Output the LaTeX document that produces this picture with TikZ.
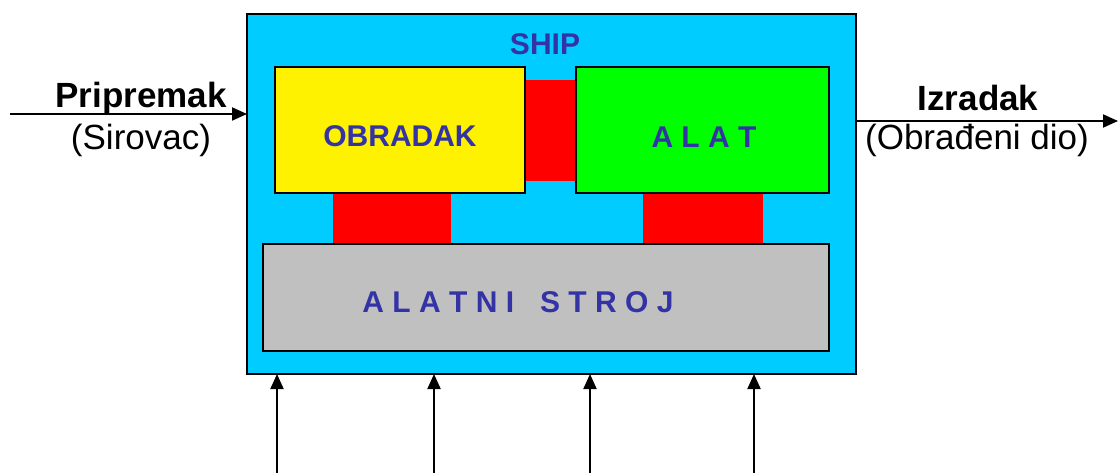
\documentclass[tikz,border=0pt]{standalone}
\usepackage{xcolor}
\usepackage{fontspec}
\setmainfont{Liberation Sans}
\usepackage{tikz}
\usetikzlibrary{arrows.meta,positioning}

\definecolor{shipcyan}{HTML}{00CCFF}
\definecolor{ink}{HTML}{3333A6}
\definecolor{toolgray}{HTML}{C0C0C0}

\begin{document}
\begin{tikzpicture}[x=1pt, y=-1pt,
        box/.style={rectangle, draw=black, line width=1.8pt, inner sep=0pt, outer sep=0pt},
        boxtext/.style={font=\bfseries\fontsize{30}{36}\selectfont, text=ink, inner sep=0pt},
        link/.style={rectangle, fill=red, inner sep=0pt, outer sep=0pt},
        label/.style={font=\fontsize{35}{40}\selectfont, inner sep=0pt},
        arrow/.style={-{Triangle[length=15pt, width=13pt]}, line width=2pt}
    ]
        \useasboundingbox (0,0) rectangle (1118,473);

        % Blocks
        \node[box, fill=shipcyan, minimum width=609pt, minimum height=360pt] (ship) at (551.5,194) {};
        \node[link, minimum width=51pt, minimum height=101pt] (middle) at (550.5,130.5) {};
        \node[link, minimum width=118pt, minimum height=51pt] (leftlink) at (392,218.5) {};
        \node[link, minimum width=120pt, minimum height=51pt] (rightlink) at (703,218.5) {};
        \node[box, fill=yellow, minimum width=250pt, minimum height=126pt] (workpiece) at (400,130) {};
        \node[box, fill=green, minimum width=253pt, minimum height=126pt] (tool) at (702.5,130) {};
        \node[box, fill=toolgray, minimum width=566pt, minimum height=107pt] (machine) at (546,297.5) {};

        % Block texts
        \node[boxtext] (shiplabel) at (545,44) {SHIP};
        \node[boxtext] (workpiecelabel) at (400,136) {OBRADAK};
        \node[boxtext] (toollabel) at (704,137) {A L A T};
        \node[boxtext] (machinelabel) at (518,302) {A L A T N I\hspace{26pt}S T R O J};

        % Labels
        \node[label, font=\bfseries\fontsize{35}{40}\selectfont] (input) at (141,98) {Pripremak};
        \node[label] (inputsub) at (141,140) {(Sirovac)};
        \node[label, font=\bfseries\fontsize{35}{40}\selectfont] (output) at (978,98) {Izradak};
        \node[label] (outputsub) at (977,140) {(Obrađeni dio)};

        % Free ends
        \coordinate (instart) at (10,114);
        \coordinate (outend) at (1118,121);
        \coordinate (feed1) at (277,473);
        \coordinate (feed2) at (434,473);
        \coordinate (feed3) at (590,473);
        \coordinate (feed4) at (754,473);

        % Arrows
        \draw[arrow] (instart) -- (instart -| ship.west);
        \draw[arrow] (outend -| ship.east) -- (outend);
        \draw[arrow] (feed1) -- (feed1 |- ship.south);
        \draw[arrow] (feed2) -- (feed2 |- ship.south);
        \draw[arrow] (feed3) -- (feed3 |- ship.south);
        \draw[arrow] (feed4) -- (feed4 |- ship.south);

    \end{tikzpicture}
\end{document}
